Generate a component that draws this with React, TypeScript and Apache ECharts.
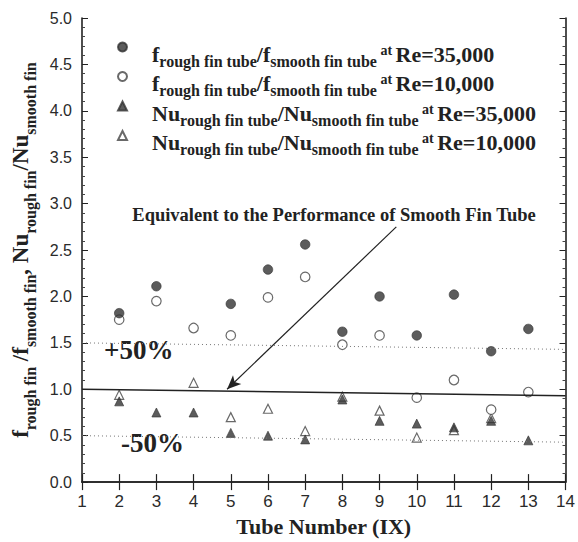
import React, { useEffect, useRef } from "react";
import * as echarts from "echarts";

// ---- data ----
const tubes = [2, 3, 4, 5, 6, 7, 8, 9, 10, 11, 12, 13];
const fRatio35 = [1.82, 2.11, null, 1.92, 2.29, 2.56, 1.62, 2.0, 1.58, 2.02, 1.41, 1.65];
const fRatio10 = [1.75, 1.95, 1.66, 1.58, 1.99, 2.21, 1.48, 1.58, 0.91, 1.1, 0.78, 0.97];
const nuRatio35 = [0.87, 0.75, 0.75, 0.53, 0.5, 0.46, 0.89, 0.66, 0.63, 0.59, 0.66, 0.45];
const nuRatio10 = [0.94, null, 1.07, 0.7, 0.79, 0.55, 0.92, 0.77, 0.48, 0.56, 0.69, null];

const equalLine = [[1, 1.0], [14, 0.93]];
const plus50Line = [[1, 1.5], [14, 1.43]];
const minus50Line = [[1, 0.5], [14, 0.43]];
const arrowLine = [[9.45, 2.75], [4.9, 1.0]];

const seriesNames = [
  "f rough fin tube/f smooth fin tube at Re=35,000",
  "f rough fin tube/f smooth fin tube at Re=10,000",
  "Nu rough fin tube/Nu smooth fin tube at Re=35,000",
  "Nu rough fin tube/Nu smooth fin tube at Re=10,000",
];
const legendRich = [
  "{m0|f}{s|rough fin tube}{m|/f}{s|smooth fin tube}{a| at }{m|Re=35,000}",
  "{m0|f}{s|rough fin tube}{m|/f}{s|smooth fin tube}{a| at }{m|Re=10,000}",
  "{m0|Nu}{s|rough fin tube}{m|/Nu}{s|smooth fin tube}{a| at }{m|Re=35,000}",
  "{m0|Nu}{s|rough fin tube}{m|/Nu}{s|smooth fin tube}{a| at }{m|Re=10,000}",
];

const xTitle = "Tube Number (IX)";
const yTitle =
  "{m|f}{s|rough fin}{m| /f}{s|smooth fin}{m|, Nu}{s|rough fin}{m|/Nu}{s|smooth fin}";
const arrowText = "Equivalent to the Performance of Smooth Fin Tube";
const plusText = "+50%";
const minusText = "-50%";

const pairs = (vals: (number | null)[]) =>
  tubes
    .map((t, i) => (vals[i] == null ? null : [t, vals[i] as number]))
    .filter((p) => p !== null) as number[][];

const SERIF = '"Liberation Serif", "DejaVu Serif", serif';
const SANS = '"Liberation Sans", Arial, sans-serif';
const DARK = "#333";

export default function App() {
  const ref = useRef<HTMLDivElement>(null);
  useEffect(() => {
    if (!ref.current) return;
    document.body.style.margin = "0";
    const chart = echarts.init(ref.current, undefined, { renderer: "svg" });

    const axisLine = { show: true, lineStyle: { color: "#222", width: 1.6 } };
    const filled = { color: DARK, borderColor: DARK, borderWidth: 0.8 };
    const open = { color: "#fff", borderColor: "#444", borderWidth: 1.2 };

    const seg = (pts: number[][], lineStyle: any, endSymbol = "none") => [
      { coord: pts[0], symbol: "none" },
      { coord: pts[1], symbol: endSymbol, lineStyle },
    ];

    const option: any = {
      animation: false,
      backgroundColor: "#fff",
      grid: { left: 82, right: 11, top: 18, bottom: 56 },
      xAxis: [
        {
          type: "value",
          min: 1,
          max: 14,
          interval: 1,
          position: "bottom",
          name: xTitle,
          nameLocation: "middle",
          nameGap: 29,
          nameTextStyle: { fontFamily: SERIF, fontWeight: "bold", fontSize: 22, color: "#222" },
          axisLine,
          axisTick: { show: true, inside: true, length: 8, lineStyle: { color: "#222", width: 1.2 } },
          axisLabel: { fontFamily: SANS, fontSize: 17, color: "#2a2a2a", margin: 11 },
          splitLine: { show: false },
        },
        {
          type: "value",
          min: 1,
          max: 14,
          interval: 1,
          position: "top",
          axisLine,
          axisTick: { show: true, inside: true, length: 8, lineStyle: { color: "#222", width: 1.2 } },
          axisLabel: { show: false },
          splitLine: { show: false },
        },
      ],
      yAxis: [
        {
          type: "value",
          min: 0,
          max: 5,
          interval: 0.5,
          position: "left",
          name: yTitle,
          nameLocation: "middle",
          nameRotate: 90,
          nameGap: 46,
          nameTextStyle: {
            rich: {
              m: { fontFamily: SERIF, fontWeight: "bold", fontSize: 23, lineHeight: 20, padding: [0, 0, 6, 0], color: "#222" },
              s: { fontFamily: SERIF, fontWeight: "bold", fontSize: 16, lineHeight: 12, padding: [14, 0, 0, 0], color: "#222" },
            },
          },
          axisLine,
          axisTick: { show: true, inside: true, length: 6, lineStyle: { color: "#222" } },
          minorTick: { show: true, splitNumber: 5, length: 3, lineStyle: { color: "#444" } },
          axisLabel: {
            fontFamily: SANS,
            fontSize: 16,
            color: "#2a2a2a",
            margin: 10,
            formatter: (v: number) => v.toFixed(1),
          },
          splitLine: { show: false },
        },
        {
          type: "value",
          min: 0,
          max: 5,
          interval: 0.5,
          position: "right",
          axisLine,
          axisTick: { show: true, inside: true, length: 6, lineStyle: { color: "#222" } },
          minorTick: { show: true, splitNumber: 5, length: 3, lineStyle: { color: "#444" } },
          axisLabel: { show: false },
          splitLine: { show: false },
        },
      ],
      legend: {
        orient: "vertical",
        left: 117,
        top: 25,
        padding: 0,
        itemGap: -14.5,
        itemWidth: 9,
        itemHeight: 9,
        selectedMode: false,
        data: seriesNames,
        formatter: (name: string) => legendRich[seriesNames.indexOf(name)],
        textStyle: {
          rich: {
            m0: { fontFamily: SERIF, fontWeight: "bold", fontSize: 22, lineHeight: 20, padding: [17, 0, 3, 20], color: "#222" },
            m: { fontFamily: SERIF, fontWeight: "bold", fontSize: 22, lineHeight: 20, padding: [17, 0, 3, 0], color: "#222" },
            s: { fontFamily: SERIF, fontWeight: "bold", fontSize: 16, lineHeight: 12, padding: [28, 0, 0, 0], color: "#222" },
            a: { fontFamily: SERIF, fontWeight: "bold", fontSize: 14, lineHeight: 12, padding: [17, 0, 11, 0], color: "#222" },
          },
        },
      },
      series: [
        {
          name: seriesNames[3],
          type: "scatter",
          symbol: "triangle",
          symbolSize: 9,
          itemStyle: open,
          data: pairs(nuRatio10),
          markLine: {
            silent: true,
            symbol: ["none", "none"],
            label: { show: false },
            animation: false,
            data: [
              seg(equalLine, { color: "#222", width: 1.5, type: "solid" }),
              seg(plus50Line, { color: "#777", width: 1, type: [1, 3] }),
              seg(minus50Line, { color: "#777", width: 1, type: [1, 3] }),
              seg(arrowLine, { color: "#222", width: 1.2, type: "solid" }, "arrow"),
            ],
            symbolSize: [9, 14],
          },
        },
        {
          name: seriesNames[1],
          type: "scatter",
          symbol: "circle",
          symbolSize: 9.5,
          itemStyle: open,
          data: pairs(fRatio10),
        },
        {
          name: seriesNames[2],
          type: "scatter",
          symbol: "triangle",
          symbolSize: 9,
          itemStyle: filled,
          data: pairs(nuRatio35),
        },
        {
          name: seriesNames[0],
          type: "scatter",
          symbol: "circle",
          symbolSize: 9.5,
          itemStyle: filled,
          data: pairs(fRatio35),
        },
      ],
      graphic: [
        {
          type: "text",
          x: 334,
          y: 215,
          style: {
            text: arrowText,
            align: "center",
            verticalAlign: "middle",
            fontFamily: SERIF,
            fontWeight: "bold",
            fontSize: 18.5,
            fill: "#222",
          },
        },
        {
          type: "text",
          x: 104,
          y: 350,
          style: {
            text: plusText,
            align: "left",
            verticalAlign: "middle",
            fontFamily: SERIF,
            fontWeight: "bold",
            fontSize: 27,
            fill: "#222",
          },
        },
        {
          type: "text",
          x: 121,
          y: 443,
          style: {
            text: minusText,
            align: "left",
            verticalAlign: "middle",
            fontFamily: SERIF,
            fontWeight: "bold",
            fontSize: 27,
            fill: "#222",
          },
        },
      ],
    };

    chart.setOption(option);
    return () => chart.dispose();
  }, []);

  return <div ref={ref} style={{ width: 578, height: 542 }} />;
}
